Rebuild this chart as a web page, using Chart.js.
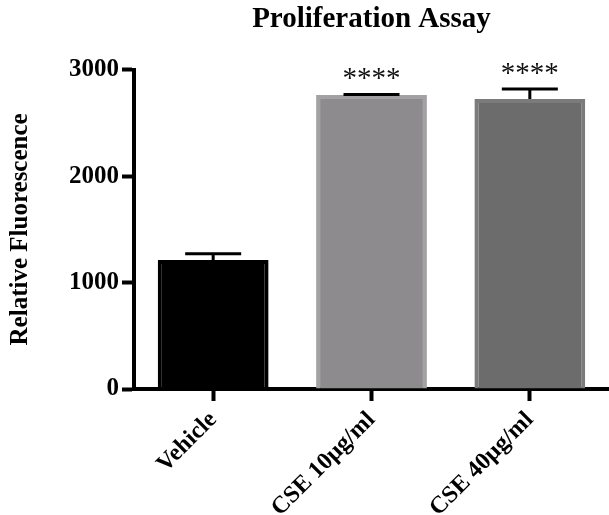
<!DOCTYPE html>
<html><head><meta charset="utf-8">
<script src="https://cdn.jsdelivr.net/npm/chart.js@4"></script>
<style>html,body{margin:0;padding:0;background:#fff;overflow:hidden}#wrap{width:609px;height:515px}</style>
</head><body><div id="wrap"><canvas id="c" width="609" height="515"></canvas></div>
<script>
const categories = ['Vehicle', 'CSE 10μg/ml', 'CSE 40μg/ml'];
const means = [1213, 2762, 2725];
const sems = [57, 6, 94];
const significance = ['', '****', '****'];
const yTicks = [0, 1000, 2000, 3000];
const titleText = 'Proliferation Assay';
const yTitle = 'Relative Fluorescence';
const fills = ['#000000', '#8e8b8f', '#6c6c6c'];
const borders = ['#000000', '#a2a2a2', '#7b7b7b'];

const SERIF = '"Liberation Serif", "Times New Roman", serif';

const errorBars = {
  id: 'errorBars',
  afterDatasetsDraw(chart) {
    const ctx = chart.ctx;
    const meta = chart.getDatasetMeta(0);
    const ys = chart.scales.y;
    ctx.save();
    meta.data.forEach((bar, i) => {
      const x = bar.x;
      const yMean = bar.y;
      const yTop = ys.getPixelForValue(means[i] + sems[i]);
      ctx.strokeStyle = '#000';
      ctx.lineWidth = 3;
      ctx.beginPath();
      ctx.moveTo(x, yMean);
      ctx.lineTo(x, yTop);
      ctx.moveTo(x - 28, yTop);
      ctx.lineTo(x + 28, yTop);
      ctx.stroke();
      if (significance[i]) {
        ctx.fillStyle = '#111';
        ctx.font = '29px ' + SERIF;
        ctx.textAlign = 'center';
        ctx.textBaseline = 'alphabetic';
        ctx.fillText(significance[i], x, yTop - 7);
      }
    });
    ctx.restore();
  }
};

new Chart(document.getElementById('c'), {
  type: 'bar',
  data: {
    labels: categories,
    datasets: [{
      data: means,
      backgroundColor: fills,
      borderColor: borders,
      borderWidth: 4,
      borderSkipped: 'bottom',
      barPercentage: 0.70,
      categoryPercentage: 1.0
    }]
  },
  options: {
    responsive: false,
    animation: false,
    devicePixelRatio: 1,
    layout: { padding: { left: 0, right: -5, top: 0, bottom: 0 } },
    plugins: {
      legend: { display: false },
      tooltip: { enabled: false },
      title: {
        display: true,
        text: titleText,
        fullSize: false,
        color: '#000',
        font: { family: SERIF, size: 29, weight: 'bold', lineHeight: 1.2 },
        padding: { top: 2, bottom: 33 }
      }
    },
    scales: {
      x: {
        type: 'category',
        offset: true,
        grid: { drawOnChartArea: false, tickLength: 12, tickWidth: 4, tickColor: '#000', offset: false },
        border: { display: true, width: 4, color: '#000' },
        ticks: {
          color: '#000',
          font: { family: SERIF, size: 24, weight: 'bold' },
          maxRotation: 45, minRotation: 45,
          padding: 5,
          autoSkip: false
        },
        afterFit(scale) { scale.height = 126; }
      },
      y: {
        min: 0, max: 3000,
        afterBuildTicks(scale) { scale.ticks = yTicks.map(v => ({ value: v })); },
        grid: { drawOnChartArea: false, tickLength: 12, tickWidth: 4, tickColor: '#000' },
        border: { display: true, width: 4, color: '#000' },
        ticks: {
          color: '#000',
          font: { family: SERIF, size: 25, weight: 'bold' },
          padding: 3,
          callback: (v) => String(v)
        },
        title: {
          display: true,
          text: yTitle,
          color: '#000',
          font: { family: SERIF, size: 25, weight: 'bold' },
          padding: { top: 6, bottom: 0 }
        },
        afterFit(scale) { scale.width = 134; }
      }
    }
  },
  plugins: [errorBars]
});
</script>
</body></html>
